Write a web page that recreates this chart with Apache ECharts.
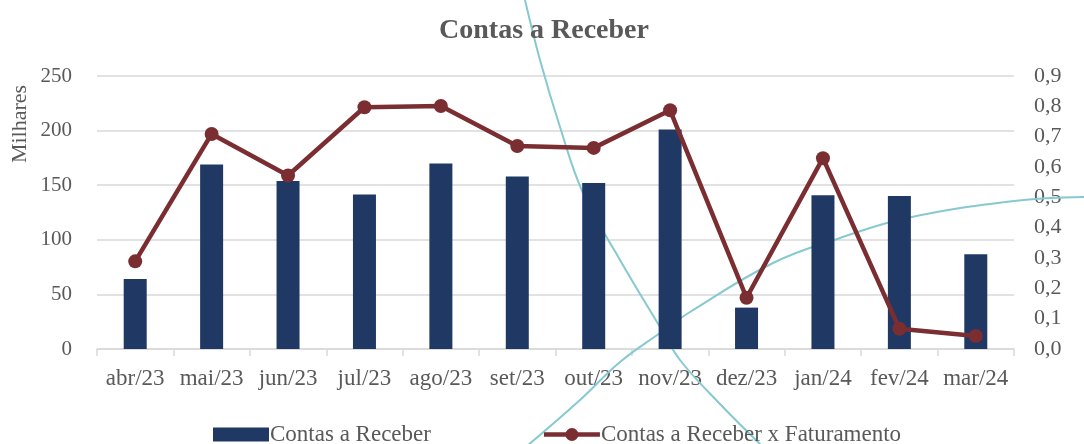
<!DOCTYPE html>
<html>
<head>
<meta charset="utf-8">
<script src="https://cdn.jsdelivr.net/npm/echarts@6/dist/echarts.min.js"></script>
<style>html,body{margin:0;padding:0;background:#fff}#c{width:1084px;height:444px}</style>
</head>
<body>
<div id="c"></div>
<script>
const categories = ['abr/23','mai/23','jun/23','jul/23','ago/23','set/23','out/23','nov/23','dez/23','jan/24','fev/24','mar/24'];
const contasReceber = [64.1, 168.9, 153.8, 141.4, 169.8, 157.9, 152.0, 200.9, 37.9, 140.7, 140.1, 86.7];
const contasXFaturamento = [0.289, 0.709, 0.572, 0.797, 0.801, 0.669, 0.663, 0.787, 0.169, 0.629, 0.067, 0.043];

const FONT = '"Liberation Serif", "DejaVu Serif", serif';
const GRAY = '#595959';
const chart = echarts.init(document.getElementById('c'));
chart.setOption({
  animation: false,
  backgroundColor: '#ffffff',
  title: {
    text: 'Contas a Receber',
    left: 539, textAlign: 'center',
    top: 12,
    textStyle: { fontFamily: FONT, fontSize: 28, fontWeight: 'bold', color: GRAY }
  },
  graphic: [
    {
      type: 'polyline', z: 1, silent: true,
      shape: { points: [[525,0],[540,60],[560,127],[583,193],[620,260],[660,327],[680,360],[720,404],[762,446]], smooth: 0.4 },
      style: { stroke: '#86C9D0', lineWidth: 2, fill: null }
    },
    {
      type: 'polyline', z: 1, silent: true,
      shape: { points: [[527,446],[580,400],[620,362],[660,333],[690,312],[773,263],[840,238],[907,218],[1014,201],[1086,197]], smooth: 0.4 },
      style: { stroke: '#86C9D0', lineWidth: 2, fill: null }
    },
    {
      type: 'text', x: 20, y: 124, rotation: Math.PI / 2,
      style: { text: 'Milhares', fontFamily: FONT, fontSize: 22, fill: GRAY, textAlign: 'center', textVerticalAlign: 'middle' }
    }
  ],
  legend: {
    left: 213,
    top: 423,
    padding: 0,
    itemGap: 113,
    itemWidth: 56,
    itemHeight: 14,
    textStyle: { fontFamily: FONT, fontSize: 23, color: GRAY, padding: [0,0,0,-4] },
    data: [
      { name: 'Contas a Receber', icon: 'rect' },
      { name: 'Contas a Receber x Faturamento',
        icon: 'path://M0,4.6L60,4.6L60,9.4L0,9.4Z M23,7A7,7 0 1 1 37,7A7,7 0 1 1 23,7Z',
        itemStyle: { color: '#7B2E31' } }
    ]
  },
  grid: { left: 97, right: 70, top: 76, bottom: 95 },
  xAxis: {
    type: 'category',
    data: categories,
    axisLine: { lineStyle: { color: '#D9D9D9', width: 1.5 } },
    axisTick: { show: true, length: 7, lineStyle: { color: '#D9D9D9', width: 1.5 } },
    axisLabel: { fontFamily: FONT, fontSize: 23, color: GRAY, margin: 18, interval: 0 }
  },
  yAxis: [
    {
      type: 'value', min: 0, max: 250, interval: 50,
      axisLine: { show: false }, axisTick: { show: false },
      splitLine: { lineStyle: { color: '#D9D9D9', width: 1.5 } },
      axisLabel: { fontFamily: FONT, fontSize: 21, color: GRAY, margin: 25 }
    },
    {
      type: 'value', min: 0, max: 0.9, interval: 0.1,
      axisLine: { show: false }, axisTick: { show: false },
      splitLine: { show: false },
      axisLabel: { fontFamily: FONT, fontSize: 22, color: GRAY, margin: 20,
        formatter: v => v.toFixed(1).replace('.', ',') }
    }
  ],
  series: [
    {
      name: 'Contas a Receber',
      type: 'bar',
      data: contasReceber,
      barWidth: 23,
      z: 3,
      itemStyle: { color: '#203864' }
    },
    {
      name: 'Contas a Receber x Faturamento',
      type: 'line',
      yAxisIndex: 1,
      data: contasXFaturamento,
      symbol: 'circle',
      symbolSize: 14,
      z: 4,
      lineStyle: { color: '#7B2E31', width: 4.5 },
      itemStyle: { color: '#7B2E31' }
    }
  ]
});
</script>
</body>
</html>
